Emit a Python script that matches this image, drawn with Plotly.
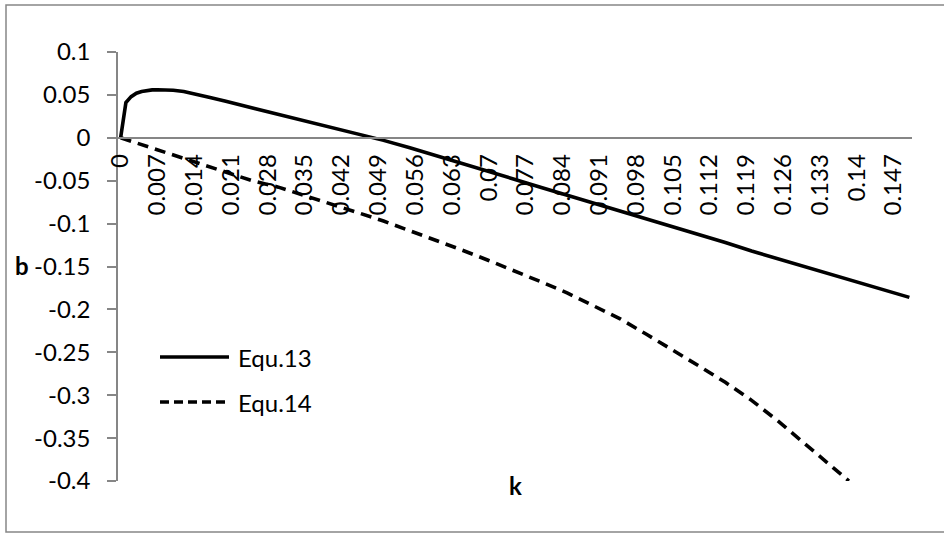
import plotly.graph_objects as go

# ---------------- data ----------------
series_names = ["Equ.13", "Equ.14"]

k_equ13 = [0, 0.001, 0.002, 0.003, 0.004, 0.005, 0.006, 0.007, 0.008, 0.010, 0.012,
           0.014, 0.017, 0.020, 0.025, 0.030, 0.035, 0.040, 0.045, 0.050, 0.055,
           0.060, 0.065, 0.070, 0.075, 0.080, 0.085, 0.090, 0.095, 0.100, 0.105,
           0.110, 0.115, 0.120, 0.125, 0.130, 0.135, 0.140, 0.145, 0.150]
b_equ13 = [0, 0.041, 0.048, 0.052, 0.054, 0.0552, 0.0558, 0.056, 0.056, 0.0555, 0.054,
           0.0515, 0.047, 0.0425, 0.035, 0.0275, 0.019, 0.0115, 0.0045, -0.003, -0.0115,
           -0.0205, -0.030, -0.039, -0.0485, -0.058, -0.067, -0.077, -0.086, -0.095, -0.104,
           -0.113, -0.122, -0.132, -0.141, -0.150, -0.159, -0.168, -0.177, -0.186]

k_equ14 = [0, 0.005, 0.010, 0.015, 0.020, 0.025, 0.030, 0.035, 0.040, 0.045, 0.050,
           0.055, 0.060, 0.065, 0.070, 0.075, 0.080, 0.085, 0.090, 0.095, 0.100,
           0.105, 0.110, 0.115, 0.120, 0.125, 0.130, 0.135, 0.1385]
b_equ14 = [0, -0.010, -0.0205, -0.031, -0.041, -0.050, -0.0575, -0.067, -0.077, -0.087, -0.097,
           -0.108, -0.119, -0.131, -0.143, -0.155, -0.168, -0.181, -0.196, -0.211, -0.229,
           -0.247, -0.266, -0.285, -0.306, -0.330, -0.356, -0.383, -0.400]

x_tick_vals = [0, 0.007, 0.014, 0.021, 0.028, 0.035, 0.042, 0.049, 0.056, 0.063, 0.070,
               0.077, 0.084, 0.091, 0.098, 0.105, 0.112, 0.119, 0.126, 0.133, 0.140, 0.147]
x_tick_text = ["0", "0.007", "0.014", "0.021", "0.028", "0.035", "0.042", "0.049", "0.056",
               "0.063", "0.07", "0.077", "0.084", "0.091", "0.098", "0.105", "0.112", "0.119",
               "0.126", "0.133", "0.14", "0.147"]
y_tick_vals = [0.1, 0.05, 0, -0.05, -0.1, -0.15, -0.2, -0.25, -0.3, -0.35, -0.4]
y_tick_text = ["0.1", "0.05", "0", "-0.05", "-0.1", "-0.15", "-0.2", "-0.25", "-0.3", "-0.35", "-0.4"]

x_title = "k"
y_title = "b"

# ---------------- styling ----------------
W, H = 944, 534
ML, MR, MT, MB = 118, 32, 52, 53
PW, PH = W - ML - MR, H - MT - MB
FONT = "Lato"
AXIS_GRAY = "#868686"
FS = 24


def px_x(px):
    return (px - ML) / PW


def px_y(py):
    return (H - MB - py) / PH


fig = go.Figure()
fig.add_trace(go.Scatter(x=k_equ13, y=b_equ13, mode="lines", name=series_names[0],
                         line=dict(color="black", width=3.6), showlegend=False))
fig.add_trace(go.Scatter(x=k_equ14, y=b_equ14, mode="lines", name=series_names[1],
                         line=dict(color="black", width=3.6, dash="11px,7px"), showlegend=False))

y_min, y_max = -0.4, 0.1
fig.update_layout(
    width=W, height=H,
    margin=dict(l=ML, r=MR, t=MT, b=MB, pad=0),
    paper_bgcolor="white", plot_bgcolor="white",
    font=dict(family=FONT, size=FS, color="black"),
    xaxis=dict(
        type="linear", range=[-0.0005, 0.1505],
        anchor="free", position=(0 - y_min) / (y_max - y_min),
        showline=True, linecolor=AXIS_GRAY, linewidth=1.5,
        ticks="", tickmode="array", tickvals=x_tick_vals, ticktext=x_tick_text,
        tickangle=-90, tickfont=dict(family=FONT, size=FS, color="black"),
        ticklabelstandoff=6,
        showgrid=False, zeroline=False,
    ),
    yaxis=dict(
        range=[y_min, y_max],
        showline=True, linecolor=AXIS_GRAY, linewidth=1.5,
        ticks="outside", ticklen=9, tickcolor=AXIS_GRAY, tickwidth=1.5,
        tickmode="array", tickvals=y_tick_vals, ticktext=y_tick_text,
        tickfont=dict(family=FONT, size=FS, color="black"),
        ticklabelstandoff=12,
        showgrid=False, zeroline=False,
    ),
)

# outer chart border
fig.add_shape(type="rect", xref="paper", yref="paper",
              x0=px_x(6), x1=px_x(950), y0=px_y(532), y1=px_y(5),
              line=dict(color=AXIS_GRAY, width=1.5), layer="below")

# axis titles
fig.add_annotation(text="<b>%s</b>" % y_title, xref="paper", yref="paper",
                   x=px_x(14), y=px_y(265), xanchor="left", yanchor="middle",
                   showarrow=False, borderpad=0,
                   font=dict(family=FONT, size=FS, color="black"))
fig.add_annotation(text="<b>%s</b>" % x_title, xref="paper", yref="paper",
                   x=px_x(515), y=px_y(502), showarrow=False,
                   font=dict(family=FONT, size=FS, color="black"))

# legend (drawn manually to mimic the Excel legend)
legend_rows = [(357, "solid"), (402, "9px,5px")]
for name, (py, dash) in zip(series_names, legend_rows):
    fig.add_shape(type="line", xref="paper", yref="paper",
                  x0=px_x(160), x1=px_x(229), y0=px_y(py), y1=px_y(py),
                  line=dict(color="black", width=3.6, dash=dash))
    fig.add_annotation(text=name, xref="paper", yref="paper",
                       x=px_x(236), y=px_y(py), xanchor="left", yanchor="middle",
                       showarrow=False, font=dict(family=FONT, size=FS, color="black"))

fig.write_html("out.html", config={"displayModeBar": False},
               post_script="document.body.style.margin='0';")
